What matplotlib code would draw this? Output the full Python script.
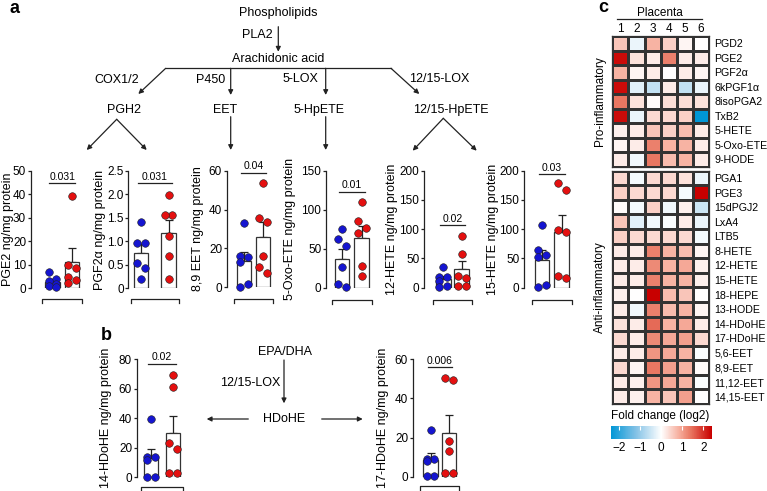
import numpy as np
import matplotlib
matplotlib.use("Agg")
import matplotlib.pyplot as plt
from matplotlib.colors import LinearSegmentedColormap, Normalize
from matplotlib.cm import ScalarMappable

plt.rcParams['font.family'] = ['Liberation Sans', 'DejaVu Sans']

W, H = 767, 491

# ---- bar chart data, ng/mg protein (blue group, red group) ----
pge2_blue = [6.8, 4.0, 3.0, 2.0, 1.0, 0.4]
pge2_red = [39.2, 9.9, 8.5, 4.9, 3.5, 2.1]
pgf2a_blue = [1.42, 0.96, 0.96, 0.54, 0.43, 0.19]
pgf2a_red = [1.98, 1.56, 1.56, 1.11, 0.69, 0.19]
eet89_blue = [33, 16.2, 15.6, 13.2, 1.5, 0.3]
eet89_red = [53.5, 35.5, 33.8, 16.1, 10.6, 7.2]
oxoete_blue = [75, 62, 54, 26, 5, 0.5]
oxoete_red = [110, 85, 77, 70, 28, 15]
hete12_blue = [35, 19, 18, 12, 3, 2]
hete12_red = [89, 57, 20, 17, 3, 3]
hete15_blue = [107, 64, 56, 52, 5, 1]
hete15_red = [179, 167, 98, 95, 20, 16]
hdohe14_blue = [39.3, 14, 14, 11.7, 0.4, 0.4]
hdohe14_red = [69.4, 61.4, 23.5, 19, 2.7, 2.7]
hdohe17_blue = [24, 9, 9, 8, 0.3, 0.3]
hdohe17_red = [50.3, 49.4, 18.4, 13.1, 2.0, 1.7]

ylabels = ['PGE2 ng/mg protein', 'PGF2α ng/mg protein', '8,9 EET ng/mg protein',
           '5-Oxo-ETE ng/mg protein', '12-HETE ng/mg protein', '15-HETE ng/mg protein',
           '14-HDoHE ng/mg protein', '17-HDoHE ng/mg protein']
pvalues = ['0.031', '0.031', '0.04', '0.01', '0.02', '0.03', '0.02', '0.006']
pline_heights = [44.6, 2.23, 59, 123, 107, 194, 77, 56]
ymaxes = [50, 2.5, 60, 150, 200, 200, 80, 60]
ysteps = [10, 0.5, 20, 50, 50, 50, 20, 20]

# ---- heatmap data, fold change (log2) per placenta ----
pro_names = ['PGD2', 'PGE2', 'PGF2α', '6kPGF1α', '8isoPGA2', 'TxB2', '5-HETE', '5-Oxo-ETE', '9-HODE']
pro_values = [
    [0.6, -0.2, 0.8, 0.5, 0.1, 0.0],
    [2.3, 0.3, 0.2, 1.3, 0.2, 0.2],
    [0.8, 0.1, 0.2, 0.0, 0.2, 0.1],
    [2.3, -0.3, -0.6, 0.2, -0.6, -0.2],
    [1.4, 0.3, 0.05, 0.35, 0.35, 0.3],
    [2.3, -0.2, 0.4, 0.4, 0.5, -2.4],
    [0.15, 0.2, 0.6, 0.5, 0.7, 0.2],
    [0.1, 0.2, 1.3, 0.8, 0.8, 0.2],
    [0.2, -0.15, 1.4, 0.7, 0.8, 0.2],
]
anti_names = ['PGA1', 'PGE3', '15dPGJ2', 'LxA4', 'LTB5', '8-HETE', '12-HETE', '15-HETE',
              '18-HEPE', '13-HODE', '14-HDoHE', '17-HDoHE', '5,6-EET', '8,9-EET',
              '11,12-EET', '14,15-EET']
anti_values = [
    [0.4, -0.1, 0.4, 0.4, 0.3, -0.2],
    [0.5, 0.4, 0.4, 0.4, -0.1, 2.4],
    [0.05, -0.1, 0.5, -0.15, 0.15, -0.5],
    [0.6, -0.3, -0.15, -0.05, 0.2, -0.2],
    [0.5, 0.4, 0.4, 0.4, 0.4, -0.1],
    [0.2, 0.2, 1.3, 0.8, 0.7, 0.1],
    [0.2, 0.2, 1.2, 0.8, 0.9, 0.15],
    [0.2, 0.2, 1.3, 0.8, 0.8, 0.15],
    [0.15, 0.0, 2.4, 0.7, 0.6, 0.0],
    [0.2, -0.15, 1.3, 0.7, 0.8, 0.1],
    [0.3, 0.2, 1.5, 0.8, 0.9, 0.2],
    [0.4, 0.2, 1.2, 0.9, 1.0, 0.4],
    [0.2, 0.2, 1.1, 0.9, 0.8, -0.05],
    [0.4, 0.1, 1.4, 1.0, 0.8, 0.05],
    [0.2, 0.15, 1.1, 0.9, 0.8, -0.05],
    [0.2, 0.15, 0.8, 0.6, 1.0, 0.0],
]
placenta = ['1', '2', '3', '4', '5', '6']

BLUE = '#1515d0'
RED = '#e41010'
INK = '#222222'

fig = plt.figure(figsize=(W / 100, H / 100), dpi=100)


def px_axes(x0, y0, x1, y1):
    # axes from pixel box (top-left origin)
    return fig.add_axes([x0 / W, 1 - y1 / H, (x1 - x0) / W, (y1 - y0) / H])


def swarm(vals, ymax):
    vals = np.asarray(vals, dtype=float)
    offs = np.zeros(len(vals))
    side = -1
    for k in np.argsort(vals)[::-1]:
        close = any(abs(vals[k] - vals[j]) < 0.07 * ymax for j in range(len(vals)) if j != k)
        if close:
            offs[k] = side * 0.27
            side = -side
    return offs


def fmt_tick(v, step):
    if v == 0:
        return '0'
    return f'{v:.1f}' if step < 1 else f'{v:g}'


# pathway overlay (pixel coordinates)
ov = fig.add_axes([0, 0, 1, 1])
ov.set_xlim(0, W)
ov.set_ylim(H, 0)
ov.axis('off')


def arrow(x0, y0, x1, y1):
    ov.annotate('', xy=(x1, y1), xytext=(x0, y0),
                arrowprops=dict(arrowstyle='-|>', color=INK, lw=0.9,
                                mutation_scale=7, shrinkA=0, shrinkB=0))


fs = 9
ov.text(15, 8, 'a', fontsize=13, fontweight='bold', ha='center', va='center')
ov.text(278, 13.3, 'Phospholipids', fontsize=fs, ha='center', va='center')
ov.text(273, 35, 'PLA2', fontsize=fs, ha='right', va='center')
arrow(278.3, 26.7, 278.3, 51.7)
ov.text(278, 59.3, 'Arachidonic acid', fontsize=fs, ha='center', va='center')
ov.plot([165.7, 391], [68.3, 68.3], color=INK, lw=0.9)
arrow(165.7, 68.3, 138.3, 94)
ov.text(117, 80, 'COX1/2', fontsize=fs, ha='center', va='center')
ov.text(225, 80, 'P450', fontsize=fs, ha='right', va='center')
arrow(230.7, 68.3, 230.7, 95)
ov.text(318.5, 79, '5-LOX', fontsize=fs, ha='right', va='center')
arrow(325.7, 68.3, 325.7, 95)
arrow(391, 68.3, 419.3, 94)
ov.text(439.5, 79, '12/15-LOX', fontsize=fs, ha='center', va='center')
ov.text(123.7, 110, 'PGH2', fontsize=fs, ha='center', va='center')
ov.text(225, 110, 'EET', fontsize=fs, ha='center', va='center')
ov.text(319.5, 110, '5-HpETE', fontsize=fs, ha='center', va='center')
ov.text(450.8, 110, '12/15-HpETE', fontsize=fs, ha='center', va='center')
arrow(116.7, 119.3, 86.7, 150)
arrow(116.7, 119.3, 146.7, 150)
arrow(230.7, 116.7, 230.7, 150)
arrow(325.7, 116.7, 325.7, 150)
arrow(443.3, 118.3, 412.7, 150.7)
arrow(443.3, 118.3, 476.7, 150.7)

ov.text(106, 335, 'b', fontsize=13, fontweight='bold', ha='center', va='center')
ov.text(285, 351.7, 'EPA/DHA', fontsize=fs, ha='center', va='center')
ov.text(280, 383.3, '12/15-LOX', fontsize=fs, ha='right', va='center')
arrow(284, 360, 284, 403.3)
ov.text(284.5, 419, 'HDoHE', fontsize=fs, ha='center', va='center')
arrow(248.3, 419, 206.7, 419)
arrow(321.7, 419, 362.7, 419)

ov.text(603, 7, 'c', fontsize=13, fontweight='bold', ha='center', va='center')
ov.text(660, 12.7, 'Placenta', fontsize=8.5, ha='center', va='center')
ov.plot([616.7, 701.7], [19, 19], color=INK, lw=0.9)
ov.text(600, 101, 'Pro-inflammatory', fontsize=8.5, rotation=90, ha='center', va='center')
ov.text(600, 287, 'Anti-inflammatory', fontsize=8.5, rotation=90, ha='center', va='center')
ov.text(660, 416, 'Fold change (log2)', fontsize=8.5, ha='center', va='center')

# ---- bar panels ----
panels = [
    (pge2_blue, pge2_red), (pgf2a_blue, pgf2a_red), (eet89_blue, eet89_red),
    (oxoete_blue, oxoete_red), (hete12_blue, hete12_red), (hete15_blue, hete15_red),
    (hdohe14_blue, hdohe14_red), (hdohe17_blue, hdohe17_red),
]
# layout: axis x, blue centre, red centre, top px, zero px, bracket gap px, ylabel centre x
layout = [
    (30.7, 52.5, 72.2, 170.7, 288.3, 11, 8),
    (128.3, 141.0, 168.5, 170.7, 288.3, 11, 100),
    (226.7, 243.8, 263.0, 170.7, 287.3, 12, 198),
    (326.0, 342.2, 361.7, 170.7, 287.7, 12, 290),
    (424.0, 443.3, 461.7, 170.7, 287.7, 12, 392),
    (524.0, 542.2, 561.7, 170.7, 287.7, 12, 493),
    (136.7, 150.8, 173.2, 359.3, 477.3, 9.4, 106),
    (412.7, 430.5, 449.2, 359.3, 476.7, 9.4, 383),
]
bw_px = 14.5

for i, (blue, red) in enumerate(panels):
    axx, cb, cr, ytop, yzero, bgap, labx = layout[i]
    s = cr - cb
    right_px = cr + bw_px / 2 + 2
    ax = px_axes(axx, ytop, right_px, yzero)
    bw = bw_px / s
    ymax = ymaxes[i]
    groups = [blue, red]
    means = [np.mean(g) for g in groups]
    sems = [np.std(g, ddof=1) / np.sqrt(len(g)) for g in groups]
    ax.errorbar([0, 1], means, yerr=[[0, 0], sems], fmt='none', ecolor=INK,
                elinewidth=0.9, capsize=3, capthick=0.9, zorder=1)
    ax.bar([0, 1], means, width=bw, color='white', edgecolor='#333333',
           linewidth=0.9, zorder=2)
    for x, g, col in zip([0, 1], groups, [BLUE, RED]):
        offs = swarm(g, ymax)
        ax.scatter(x + offs * bw, g, s=30, color=col, edgecolors='#202020',
                   linewidths=0.4, zorder=3, clip_on=False)
    ax.set_xlim(-(cb - axx) / s, 1 + (bw_px / 2 + 2) / s)
    ax.set_ylim(0, ymax)
    ticks = np.arange(0, ymax + ysteps[i] / 2, ysteps[i])
    ax.set_yticks(ticks)
    ax.set_yticklabels([fmt_tick(t, ysteps[i]) for t in ticks])
    ax.set_xticks([])
    for sp in ['top', 'right', 'bottom']:
        ax.spines[sp].set_visible(False)
    ax.spines['left'].set_linewidth(0.9)
    ax.spines['left'].set_color(INK)
    ax.tick_params(axis='y', length=2.5, width=0.9, labelsize=8.5, pad=0.8, color=INK)
    ax.set_ylabel(ylabels[i], fontsize=9, va='center')
    ax.yaxis.set_label_coords(-(axx - labx) / (right_px - axx), 0.5)
    ax.patch.set_alpha(0)
    # significance line and p-value
    pad = 3 / s
    ax.plot([-pad, 1 + pad], [pline_heights[i]] * 2, color=INK, lw=0.9, clip_on=False)
    ax.annotate(pvalues[i], (0.5, pline_heights[i]), xytext=(0, 1),
                textcoords='offset points', ha='center', va='bottom', fontsize=7.5,
                annotation_clip=False)
    # group bracket below the bars
    ah = yzero - ytop
    yb = -bgap / ah
    yt = -(bgap + 4) / ah
    xl = -bw / 2 - 3 / s
    xr = 1 + bw / 2 + 3 / s
    ax.plot([xl, xl, xr, xr], [yt, yb, yb, yt], color=INK, lw=0.9,
            transform=ax.get_xaxis_transform(), clip_on=False)

# ---- heatmap ----
cmap = LinearSegmentedColormap.from_list('fc', [(0, '#0096d6'), (0.25, '#84c2e6'),
                                                (0.5, '#ffffff'), (0.68, '#f6ad9c'),
                                                (0.8, '#e8735e'), (1, '#c80000')])
vmin, vmax = -2.4, 2.4

for names, vals, y0, y1, top in [(pro_names, pro_values, 36, 166.5, True),
                                 (anti_names, anti_values, 170.7, 404, False)]:
    hax = px_axes(612.3, y0, 709, y1)
    arr = np.array(vals)
    hax.pcolormesh(arr, cmap=cmap, vmin=vmin, vmax=vmax, edgecolors='#333333', linewidth=0.8)
    hax.set_xlim(0, arr.shape[1])
    hax.set_ylim(arr.shape[0], 0)
    hax.yaxis.tick_right()
    hax.set_yticks(np.arange(len(names)) + 0.5)
    hax.set_yticklabels(names, fontsize=7.7)
    hax.tick_params(axis='y', length=0, pad=4)
    if top:
        hax.xaxis.tick_top()
        hax.set_xticks(np.arange(len(placenta)) + 0.5)
        hax.set_xticklabels(placenta, fontsize=8.5)
        hax.tick_params(axis='x', length=0, pad=1)
    else:
        hax.set_xticks([])
    for sp in hax.spines.values():
        sp.set_linewidth(0.9)
        sp.set_color('#333333')

cax = px_axes(610.7, 426, 711.7, 439.3)
cbar = fig.colorbar(ScalarMappable(norm=Normalize(vmin, vmax), cmap=cmap),
                    cax=cax, orientation='horizontal')
cbar.outline.set_visible(False)
cbar.set_ticks([-2, -1, 0, 1, 2])
cbar.set_ticklabels(['\u22122', '\u22121', '0', '1', '2'])
cax.tick_params(axis='x', top=True, bottom=False, labelbottom=True, direction='in',
                color='white', length=3, width=0.8, labelsize=8.5, pad=2)

fig.savefig('out.png', dpi=100)
